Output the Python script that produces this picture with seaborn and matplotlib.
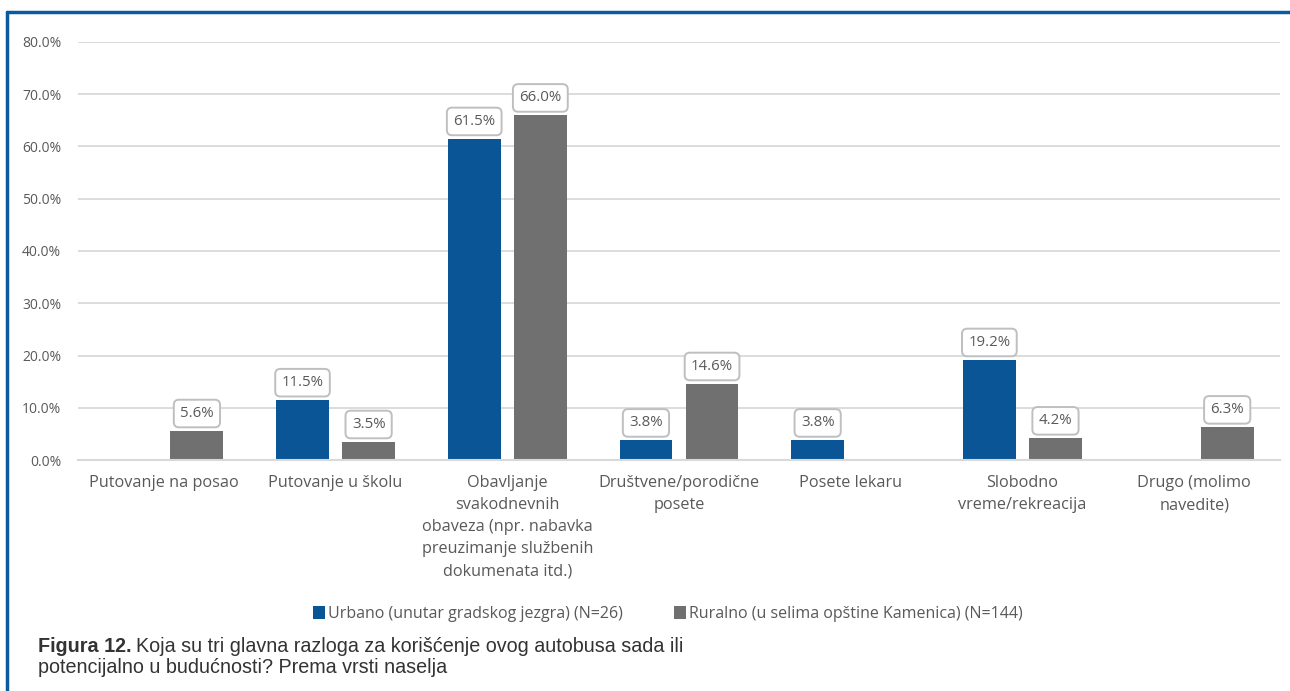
import matplotlib
matplotlib.use("Agg")
import matplotlib.pyplot as plt
import seaborn as sns
import pandas as pd
import numpy as np
from matplotlib.lines import Line2D
from matplotlib.patches import Patch

categories = [
    "Putovanje na posao",
    "Putovanje u školu",
    "Obavljanje\nsvakodnevnih\nobaveza (npr. nabavka\npreuzimanje službenih\ndokumenata itd.)",
    "Društvene/porodične\nposete",
    "Posete lekaru",
    "Slobodno\nvreme/rekreacija",
    "Drugo (molimo\nnavedite)",
]
urbano = [np.nan, 11.5, 61.5, 3.8, 3.8, 19.2, np.nan]
ruralno = [5.6, 3.5, 66.0, 14.6, np.nan, 4.2, 6.3]
series = ["Urbano (unutar gradskog jezgra) (N=26)", "Ruralno (u selima opštine Kamenica) (N=144)"]
yticks = [0, 10, 20, 30, 40, 50, 60, 70, 80]

BLUE = "#0A5596"
GRAY = "#707070"
TXT = "#595959"

sns.set_theme(style="white")
plt.rcParams["font.family"] = ["Open Sans", "DejaVu Sans"]

df = pd.DataFrame({
    "cat": categories * 2,
    "val": urbano + ruralno,
    "series": [series[0]] * len(categories) + [series[1]] * len(categories),
})

W, H = 1290, 691
fig = plt.figure(figsize=(12.9, 6.91), dpi=100)
ax = fig.add_axes([78 / W, 1 - 460 / H, (1280 - 78) / W, (460 - 42) / H])

sns.barplot(data=df, x="cat", y="val", hue="series", order=categories,
            hue_order=series, palette=[BLUE, GRAY], width=0.77, gap=0.2,
            saturation=1, ax=ax, legend=False, errorbar=None, linewidth=0)

ax.set_xlim(-0.5, len(categories) - 0.5)
ax.set_ylim(0, 80)
ax.set_yticks(yticks)
ax.set_yticklabels([f"{v:.1f}%" for v in yticks], color=TXT, fontsize=10)
ax.tick_params(axis="x", colors=TXT, labelsize=11.7, length=0, pad=11)
ax.tick_params(axis="y", length=0, pad=12)
ax.set_xlabel("")
ax.set_ylabel("")
ax.grid(axis="y", color="#D9D9D9", linewidth=1.3)
ax.set_axisbelow(True)
for s in ["top", "right", "left"]:
    ax.spines[s].set_visible(False)
ax.spines["bottom"].set_color("#D9D9D9")
ax.spines["bottom"].set_linewidth(1.5)
for lbl in ax.get_xticklabels():
    lbl.set_va("top")
    lbl.set_ha("center")
    lbl.set_multialignment("center")
    lbl.set_linespacing(1.5)

for cont in ax.containers:
    ax.bar_label(cont, fmt="%.1f%%", padding=7, fontsize=10.8, color=TXT,
                 bbox=dict(boxstyle="round,pad=0.42,rounding_size=0.35",
                           fc="white", ec="#BFBFBF", lw=1.4))

handles = [Patch(facecolor=BLUE, edgecolor="none"), Patch(facecolor=GRAY, edgecolor="none")]
fig.legend(handles, series, loc="center", bbox_to_anchor=(668 / W, 1 - 614 / H),
           ncol=2, frameon=False, fontsize=11.5, handlelength=0.75, handleheight=0.9,
           handletextpad=0.2, columnspacing=3.2, labelcolor=TXT)

# Frame lines
fig.add_artist(Line2D([7 / W, 7 / W], [0, 1 - 12 / H], color="#0B5AA0", lw=2.5,
                      transform=fig.transFigure))
fig.add_artist(Line2D([7 / W, 1], [1 - 12 / H, 1 - 12 / H], color="#0B5AA0", lw=2.5,
                      transform=fig.transFigure))

# Caption
cap_font = ["Liberation Sans", "DejaVu Sans"]
cap_size = 14.2
t1 = fig.text(38 / W, 1 - 652 / H, "Figura 12.", fontsize=cap_size, fontweight="bold",
              color="#333333", family=cap_font, va="baseline")
fig.canvas.draw()
bb = t1.get_window_extent(renderer=fig.canvas.get_renderer())
fig.text(bb.x1 / W + 4 / W, 1 - 652 / H,
         "Koja su tri glavna razloga za korišćenje ovog autobusa sada ili",
         fontsize=cap_size, color="#333333", family=cap_font, va="baseline")
fig.text(38 / W, 1 - 673 / H, "potencijalno u budućnosti? Prema vrsti naselja",
         fontsize=cap_size, color="#333333", family=cap_font, va="baseline")

fig.savefig("out.png", dpi=100)
